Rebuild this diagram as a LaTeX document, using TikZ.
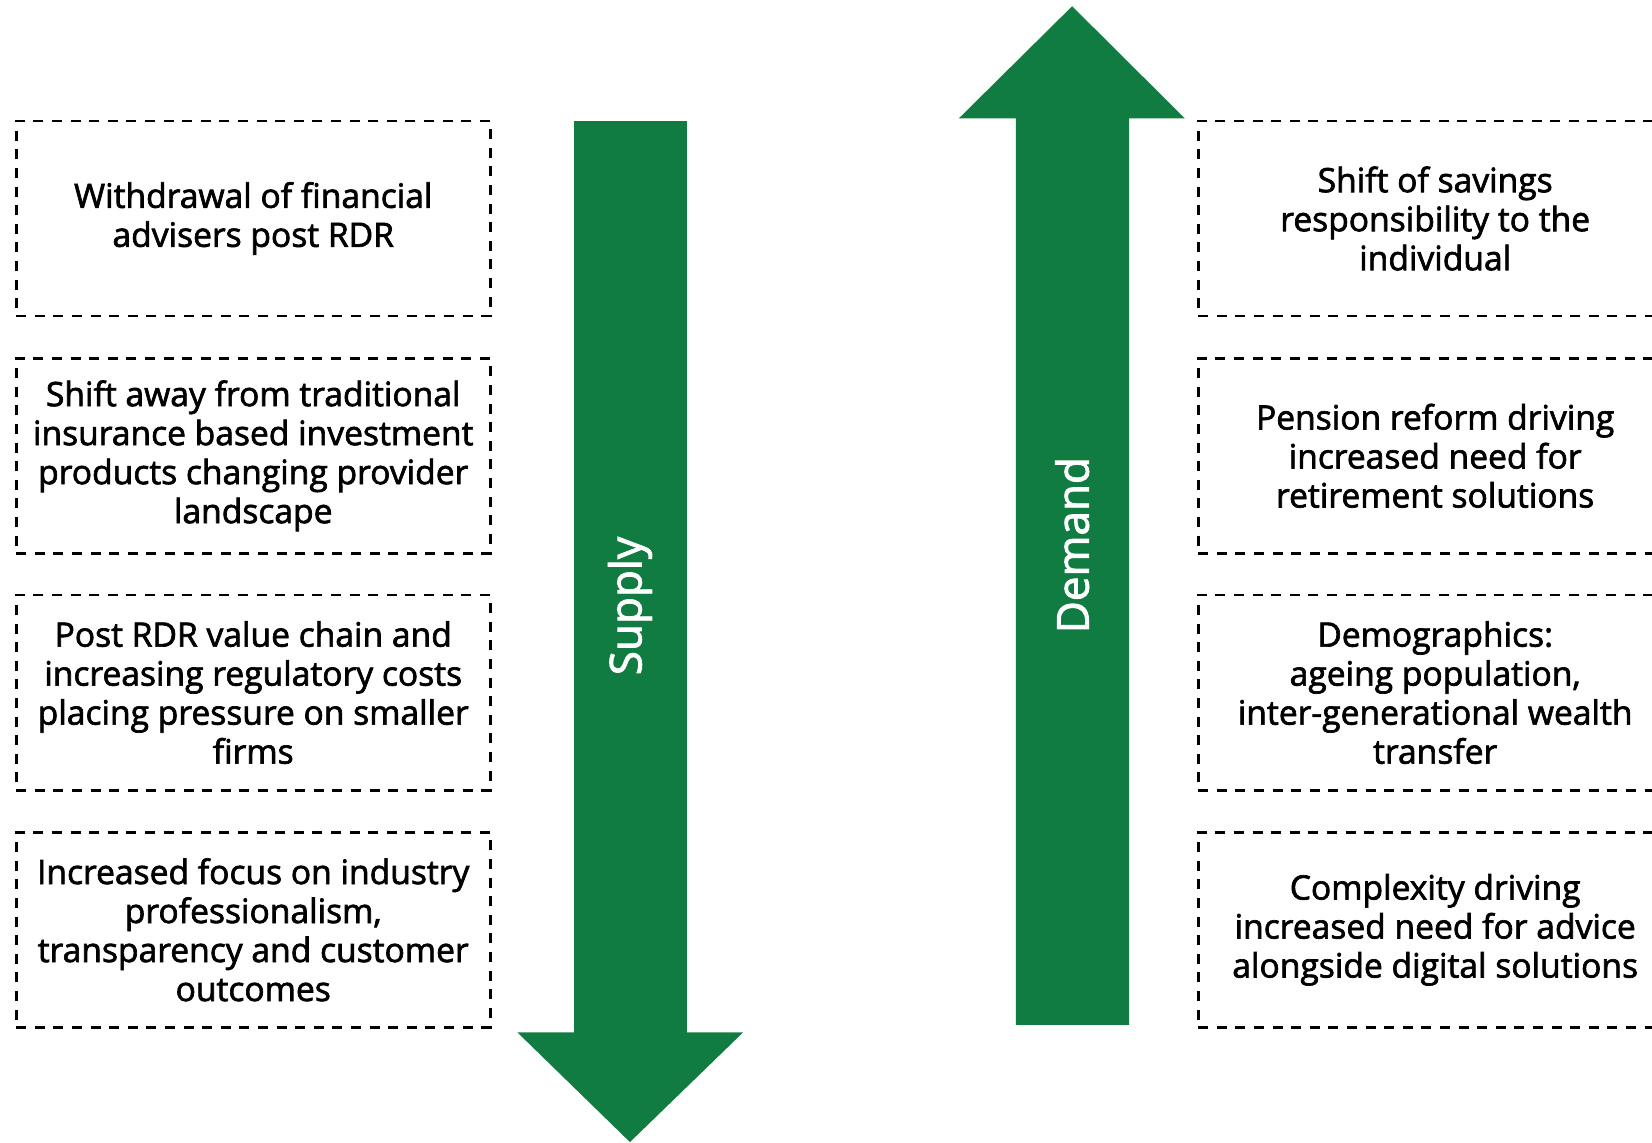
\documentclass[tikz,border=0pt]{standalone}
\usepackage{fontspec}
\usepackage{tikz}
\newfontfamily\labelfont{Open Sans}[FakeBold=2]
\definecolor{arrowgreen}{HTML}{117C41}
\newcommand{\boxtext}{\labelfont\fontsize{16.8pt}{19.5pt}\selectfont}

\begin{document}
\begin{tikzpicture}[
  factor/.style={draw, line width=1.4pt, dash pattern=on 5pt off 4.3pt,
    minimum width=8.33cm, minimum height=3.43cm, align=center, font=\boxtext},
  bigarrow/.style={fill=arrowgreen},
  arrowlabel/.style={rotate=90, white, font=\labelfont\fontsize{22pt}{26pt}\selectfont}
]
\clip (0,0) rectangle (29.03,20.07);

% supply arrow, pointing down
\coordinate (S1) at (10.09,17.94);
\coordinate (S2) at (12.07,17.94);
\coordinate (S3) at (12.07,1.93);
\coordinate (S4) at (13.06,1.93);
\coordinate (S5) at (11.07,0);
\coordinate (S6) at (9.09,1.93);
\coordinate (S7) at (10.09,1.93);
\fill[bigarrow] (S1) -- (S2) -- (S3) -- (S4) -- (S5) -- (S6) -- (S7) -- cycle;
\node[arrowlabel] (supply) at (11.07,9.42) {Supply};

% demand arrow, pointing up
\coordinate (D1) at (17.85,2.06);
\coordinate (D2) at (19.84,2.06);
\coordinate (D3) at (19.84,17.99);
\coordinate (D4) at (20.82,17.99);
\coordinate (D5) at (18.84,19.96);
\coordinate (D6) at (16.85,17.99);
\coordinate (D7) at (17.85,17.99);
\fill[bigarrow] (D1) -- (D2) -- (D3) -- (D4) -- (D5) -- (D6) -- (D7) -- cycle;
\node[arrowlabel] (demand) at (18.84,10.49) {Demand};

% supply side factors
\node[factor] (sup1) at (4.45,16.23) {Withdrawal of financial\\advisers post RDR};
\node[factor] (sup2) at (4.45,12.06) {Shift away from traditional\\insurance based investment\\products changing provider\\landscape};
\node[factor] (sup3) at (4.45,7.90) {Post RDR value chain and\\increasing regulatory costs\\placing pressure on smaller\\firms};
\node[factor] (sup4) at (4.45,3.73) {Increased focus on industry\\professionalism,\\transparency and customer\\outcomes};

% demand side factors
\node[factor] (dem1) at (25.22,16.23) {Shift of savings\\responsibility to the\\individual};
\node[factor] (dem2) at (25.22,12.06) {Pension reform driving\\increased need for\\retirement solutions};
\node[factor] (dem3) at (25.22,7.90) {Demographics:\\ageing population,\\inter-generational wealth\\transfer};
\node[factor] (dem4) at (25.22,3.73) {Complexity driving\\increased need for advice\\alongside digital solutions};
\end{tikzpicture}
\end{document}
